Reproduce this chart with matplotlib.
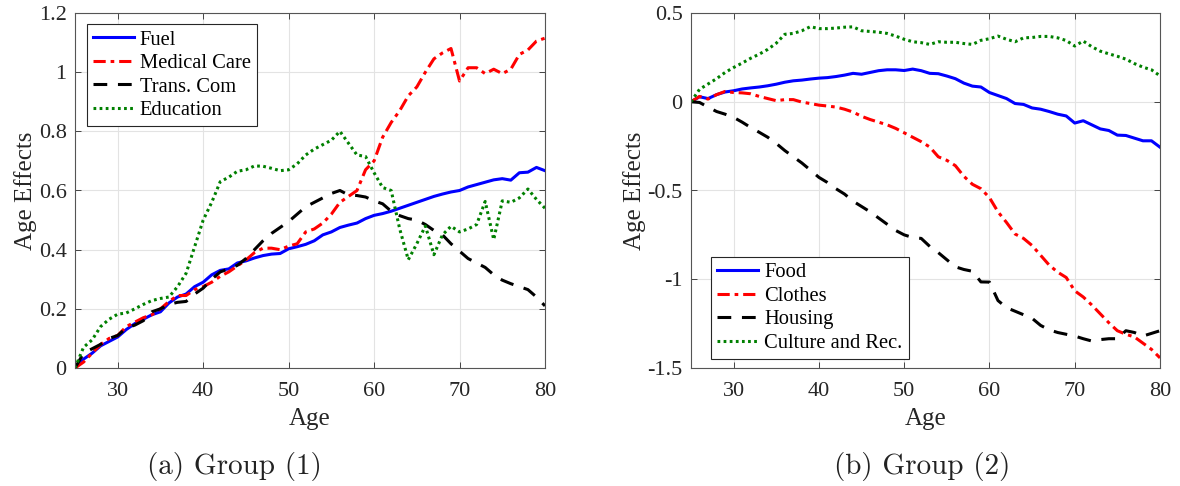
import numpy as np
import matplotlib
matplotlib.use('Agg')
import matplotlib.pyplot as plt
from matplotlib.ticker import FormatStrFormatter

plt.rcParams['font.family'] = ['Liberation Serif', 'DejaVu Serif']
plt.rcParams['axes.unicode_minus'] = False

age = np.arange(25, 81)

# group (1)
fuel = [0, 0.03, 0.05, 0.075, 0.09, 0.105, 0.13, 0.15, 0.165, 0.18,
        0.19, 0.22, 0.24, 0.25, 0.275, 0.29, 0.315, 0.33, 0.335, 0.355,
        0.362, 0.372, 0.38, 0.385, 0.387, 0.403, 0.41, 0.418, 0.43, 0.45,
        0.46, 0.475, 0.483, 0.49, 0.505, 0.516, 0.522, 0.53, 0.54, 0.55,
        0.56, 0.57, 0.58, 0.588, 0.595, 0.6, 0.612, 0.62, 0.628, 0.636,
        0.64, 0.635, 0.66, 0.662, 0.678, 0.667]
medical = [0, 0.02, 0.05, 0.08, 0.1, 0.11, 0.14, 0.155, 0.17, 0.18,
           0.2, 0.225, 0.245, 0.245, 0.265, 0.275, 0.29, 0.31, 0.325, 0.345,
           0.365, 0.39, 0.405, 0.405, 0.4, 0.412, 0.42, 0.46, 0.47, 0.49,
           0.52, 0.56, 0.58, 0.6, 0.67, 0.7, 0.78, 0.83, 0.87, 0.92,
           0.95, 1.0, 1.045, 1.065, 1.08, 0.97, 1.015, 1.015, 0.995, 1.01,
           0.995, 1.01, 1.06, 1.075, 1.105, 1.115]
transcom = [0, 0.05, 0.065, 0.08, 0.1, 0.11, 0.135, 0.145, 0.16, 0.19,
            0.2, 0.215, 0.222, 0.225, 0.25, 0.27, 0.3, 0.325, 0.335, 0.347,
            0.37, 0.4, 0.43, 0.455, 0.475, 0.495, 0.52, 0.545, 0.56, 0.575,
            0.59, 0.6, 0.585, 0.583, 0.578, 0.565, 0.555, 0.53, 0.515, 0.505,
            0.5, 0.485, 0.465, 0.45, 0.42, 0.395, 0.37, 0.355, 0.34, 0.315,
            0.297, 0.285, 0.275, 0.265, 0.24, 0.21]
education = [0, 0.07, 0.095, 0.14, 0.165, 0.182, 0.186, 0.2, 0.215, 0.228,
             0.235, 0.24, 0.275, 0.32, 0.41, 0.5, 0.56, 0.63, 0.645, 0.665,
             0.67, 0.683, 0.682, 0.675, 0.667, 0.67, 0.69, 0.72, 0.74, 0.755,
             0.77, 0.8, 0.76, 0.72, 0.715, 0.66, 0.61, 0.6, 0.47, 0.366,
             0.42, 0.48, 0.383, 0.45, 0.479, 0.46, 0.47, 0.485, 0.563, 0.434,
             0.565, 0.56, 0.575, 0.605, 0.57, 0.54]

# group (2)
food = [0, 0.028, 0.018, 0.04, 0.055, 0.062, 0.072, 0.078, 0.083, 0.09,
        0.099, 0.11, 0.118, 0.122, 0.128, 0.133, 0.136, 0.142, 0.15, 0.16,
        0.155, 0.165, 0.175, 0.18, 0.18, 0.176, 0.184, 0.175, 0.16, 0.158,
        0.145, 0.13, 0.105, 0.088, 0.083, 0.052, 0.035, 0.018, -0.01, -0.015,
        -0.035, -0.042, -0.055, -0.07, -0.08, -0.12, -0.107, -0.13, -0.153, -0.162,
        -0.188, -0.19, -0.205, -0.22, -0.22, -0.256]
clothes = [0, 0.03, 0.015, 0.04, 0.058, 0.052, 0.05, 0.045, 0.03, 0.018,
           0.006, 0.012, 0.012, -0.002, -0.01, -0.019, -0.024, -0.03, -0.042, -0.058,
           -0.082, -0.1, -0.115, -0.13, -0.15, -0.175, -0.2, -0.225, -0.255, -0.31,
           -0.33, -0.36, -0.42, -0.465, -0.49, -0.54, -0.62, -0.68, -0.745, -0.77,
           -0.81, -0.865, -0.92, -0.96, -0.99, -1.065, -1.1, -1.145, -1.195, -1.245,
           -1.29, -1.31, -1.325, -1.36, -1.395, -1.443]
housing = [0, -0.004, -0.03, -0.055, -0.07, -0.088, -0.115, -0.145, -0.172, -0.2,
           -0.235, -0.275, -0.31, -0.345, -0.385, -0.426, -0.455, -0.49, -0.52, -0.56,
           -0.59, -0.62, -0.655, -0.69, -0.725, -0.75, -0.765, -0.77, -0.815, -0.85,
           -0.89, -0.93, -0.945, -0.955, -1.015, -1.016, -1.12, -1.16, -1.18, -1.2,
           -1.22, -1.26, -1.285, -1.3, -1.31, -1.32, -1.335, -1.348, -1.34, -1.335,
           -1.335, -1.29, -1.3, -1.32, -1.305, -1.29]
culture = [0, 0.07, 0.1, 0.13, 0.165, 0.193, 0.218, 0.245, 0.268, 0.295,
           0.33, 0.38, 0.385, 0.4, 0.423, 0.412, 0.412, 0.415, 0.42, 0.422,
           0.4, 0.396, 0.392, 0.385, 0.37, 0.352, 0.338, 0.333, 0.323, 0.338,
           0.335, 0.335, 0.328, 0.323, 0.346, 0.355, 0.37, 0.352, 0.338, 0.36,
           0.362, 0.368, 0.368, 0.36, 0.345, 0.314, 0.342, 0.31, 0.285, 0.27,
           0.256, 0.24, 0.215, 0.195, 0.18, 0.146]

labels1 = ['Fuel', 'Medical Care', 'Trans. Com', 'Education']
labels2 = ['Food', 'Clothes', 'Housing', 'Culture and Rec.']

styles = [dict(color='#0000ff', linestyle='-'),
          dict(color='#ff0000', dashes=(4, 1.6, 1.2, 1.6)),
          dict(color='black', dashes=(4.5, 3.5)),
          dict(color='#008000', dashes=(0.9, 1.1))]

W, H = 1180, 486
fig = plt.figure(figsize=(W / 100, H / 100), dpi=100)

def setup(ax):
    ax.set_xlim(25, 80)
    ax.set_xticks([30, 40, 50, 60, 70, 80])
    ax.grid(True, color='#e3e3e3', linewidth=0.8)
    ax.set_axisbelow(True)
    ax.tick_params(direction='in', length=4, width=0.7, top=True, right=True,
                   labelsize=16, colors='#444444', labelcolor='#262626')
    ax.tick_params(axis='x', pad=10)
    ax.tick_params(axis='y', pad=6)
    for s in ax.spines.values():
        s.set_color('#555555')
        s.set_linewidth(0.8)
    ax.set_xlabel('Age', fontsize=18, color='#262626', labelpad=5)
    ax.set_ylabel('Age Effects', fontsize=18, color='#262626', labelpad=1)

def add_legend(ax, **kw):
    leg = ax.legend(fontsize=14.8, handlelength=2.0, handletextpad=0.3,
                    labelspacing=0.2, borderpad=0.3, borderaxespad=0,
                    fancybox=False, framealpha=1, **kw)
    leg.get_frame().set_edgecolor('#262626')
    leg.get_frame().set_linewidth(0.8)
    return leg

#### group (1)
ax1 = fig.add_axes([75 / W, 1 - 368 / H, 470 / W, 355 / H])
for y, lab, st in zip([fuel, medical, transcom, education], labels1, styles):
    ax1.plot(age, y, linewidth=2.2, label=lab, **st)
ax1.set_ylim(0, 1.2)
ax1.set_yticks(np.arange(0, 1.21, 0.2))
ax1.yaxis.set_major_formatter(FormatStrFormatter('%g'))
setup(ax1)
add_legend(ax1, loc='upper left', bbox_to_anchor=(11.5 / 470, 1 - 11 / 355))

#### group (2)
ax2 = fig.add_axes([691 / W, 1 - 368 / H, 469 / W, 355 / H])
for y, lab, st in zip([food, clothes, housing, culture], labels2, styles):
    ax2.plot(age, y, linewidth=2.2, label=lab, **st)
ax2.set_ylim(-1.5, 0.5)
ax2.set_yticks([-1.5, -1, -0.5, 0, 0.5])
ax2.yaxis.set_major_formatter(FormatStrFormatter('%g'))
setup(ax2)
add_legend(ax2, loc='lower left', bbox_to_anchor=(20 / 469, 9 / 355))

fig.text(234 / W, 1 - 466 / H, '(a) Group (1)', family='cmr10', fontsize=21,
         ha='center', va='center', color='#222222')
fig.text(922 / W, 1 - 466 / H, '(b) Group (2)', family='cmr10', fontsize=21,
         ha='center', va='center', color='#222222')

plt.savefig('out.png', dpi=100)
